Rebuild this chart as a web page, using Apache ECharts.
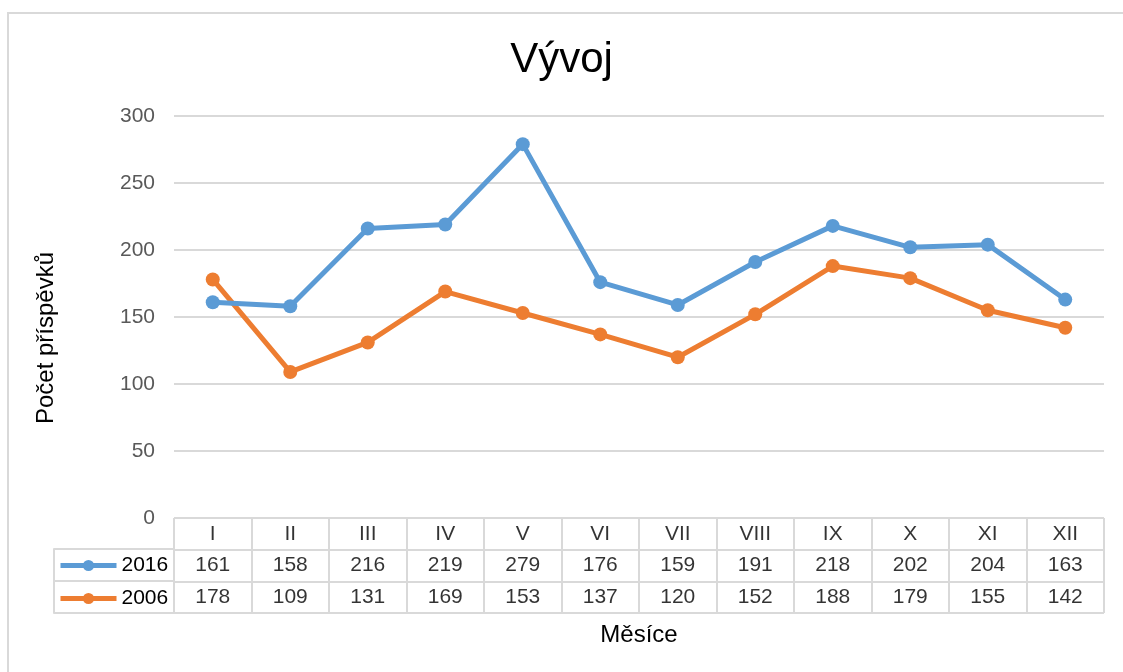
<!DOCTYPE html>
<html>
<head>
<meta charset="utf-8">
<script src="https://cdn.jsdelivr.net/npm/echarts@6/dist/echarts.min.js"></script>
<style>
  html, body { margin: 0; padding: 0; background: #fff; }
  #chart { width: 1123px; height: 672px; }
</style>
</head>
<body>
<div id="chart"></div>
<script>
// data
const months = ["I", "II", "III", "IV", "V", "VI", "VII", "VIII", "IX", "X", "XI", "XII"];
const seriesNames = ["2016", "2006"];
const values2016 = [161, 158, 216, 219, 279, 176, 159, 191, 218, 202, 204, 163];
const values2006 = [178, 109, 131, 169, 153, 137, 120, 152, 188, 179, 155, 142];
const yTicks = [0, 50, 100, 150, 200, 250, 300];

const blue = "#5b9bd5";
const orange = "#ed7d31";
const gridColor = "#d9d9d9";
const font = "Liberation Sans, Arial, sans-serif";

// table rows (bottom to top in the category axis)
const tableRows = ["2006", "2016", "head"];
const cells = [];
months.forEach((m, i) => {
  cells.push({ value: [i, "head"], text: m });
  cells.push({ value: [i, "2016"], text: String(values2016[i]) });
  cells.push({ value: [i, "2006"], text: String(values2006[i]) });
});

// one legend per table row so each sits in its own row
const legendFor = (name, top) => ({
  data: [name],
  left: 58,
  top: top,
  padding: 0,
  itemWidth: 56,
  itemHeight: 14,
  lineStyle: { width: 5 },
  textStyle: { fontSize: 21, color: "#000", fontFamily: font }
});

const chart = echarts.init(document.getElementById("chart"));
chart.setOption({
  backgroundColor: "#fff",
  textStyle: { fontFamily: font },
  title: {
    text: "Vývoj",
    left: "center",
    top: 34,
    textStyle: { fontSize: 42, fontWeight: "normal", color: "#000", fontFamily: font }
  },
  legend: [legendFor(seriesNames[0], 555), legendFor(seriesNames[1], 588)],
  grid: [
    { left: 174, right: 19, top: 116, height: 402 }, // plot
    { left: 174, right: 19, top: 518, height: 95 },  // data table
    { left: 54, width: 120, top: 549, height: 64 }   // legend column
  ],
  xAxis: [
    {
      gridIndex: 0,
      type: "category",
      data: months,
      boundaryGap: true,
      axisLine: { show: false },
      axisTick: { show: false },
      axisLabel: { show: false }
    },
    {
      gridIndex: 1,
      type: "category",
      data: months,
      boundaryGap: true,
      axisLine: { show: false },
      axisTick: { show: false },
      axisLabel: { show: false },
      splitLine: { show: true, interval: 0, lineStyle: { color: gridColor, width: 2 } },
      name: "Měsíce",
      nameLocation: "middle",
      nameGap: 10,
      nameTextStyle: { fontSize: 24, color: "#000", fontFamily: font }
    },
    {
      gridIndex: 2,
      type: "value",
      min: 0,
      max: 1,
      show: false
    }
  ],
  yAxis: [
    {
      gridIndex: 0,
      type: "value",
      min: 0,
      max: 300,
      interval: 50,
      axisLine: { show: false },
      axisTick: { show: false },
      axisLabel: {
        fontSize: 21,
        color: "#595959",
        margin: 19,
        customValues: yTicks
      },
      splitLine: { lineStyle: { color: gridColor, width: 2 } }
    },
    {
      gridIndex: 1,
      type: "category",
      data: tableRows,
      boundaryGap: true,
      axisLine: { show: false },
      axisTick: { show: false },
      axisLabel: { show: false },
      splitLine: { show: true, interval: 0, lineStyle: { color: gridColor, width: 2 } }
    },
    {
      gridIndex: 2,
      type: "category",
      data: ["2006", "2016"],
      boundaryGap: true,
      axisLine: { show: true, lineStyle: { color: gridColor, width: 2 } },
      axisTick: { show: false },
      axisLabel: { show: false },
      splitLine: { show: true, interval: 0, lineStyle: { color: gridColor, width: 2 } }
    }
  ],
  graphic: [
    {
      type: "rect",
      shape: { x: 8, y: 13, width: 1130, height: 680 },
      style: { fill: null, stroke: gridColor, lineWidth: 2 },
      silent: true,
      z: -10
    },
    {
      type: "text",
      x: 46,
      y: 338,
      rotation: Math.PI / 2,
      style: {
        text: "Počet příspěvků",
        fontSize: 24,
        fill: "#000",
        fontFamily: font,
        align: "center",
        verticalAlign: "middle"
      }
    }
  ],
  series: [
    {
      name: "2016",
      type: "line",
      xAxisIndex: 0,
      yAxisIndex: 0,
      data: values2016,
      symbol: "circle",
      symbolSize: 14,
      lineStyle: { color: blue, width: 5 },
      itemStyle: { color: blue },
      z: 3
    },
    {
      name: "2006",
      type: "line",
      xAxisIndex: 0,
      yAxisIndex: 0,
      data: values2006,
      symbol: "circle",
      symbolSize: 14,
      lineStyle: { color: orange, width: 5 },
      itemStyle: { color: orange },
      z: 2
    },
    {
      type: "scatter",
      xAxisIndex: 1,
      yAxisIndex: 1,
      data: cells,
      symbolSize: 0,
      silent: true,
      label: {
        show: true,
        position: "inside",
        fontSize: 21,
        color: "#000",
        fontFamily: font,
        formatter: p => p.data.text
      }
    }
  ]
});
</script>
</body>
</html>
